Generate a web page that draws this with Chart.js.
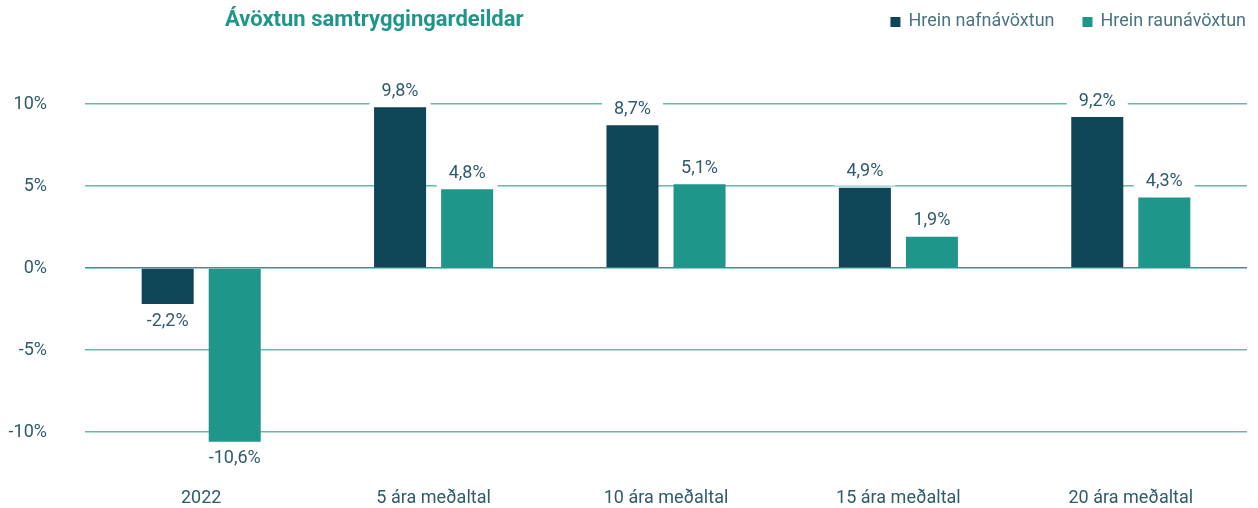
<!DOCTYPE html>
<html>
<head>
<meta charset="utf-8">
<script src="https://cdn.jsdelivr.net/npm/chart.js@4/dist/chart.umd.min.js"></script>
<style>
  html, body { margin: 0; padding: 0; background: #ffffff; overflow: hidden; }
  canvas { display: block; }
</style>
</head>
<body>
<canvas id="avoxtunChart" width="1258" height="508"></canvas>
<script>
// ---------- Data ----------
const categories = ["2022", "5 ára meðaltal", "10 ára meðaltal", "15 ára meðaltal", "20 ára meðaltal"];
const nafnavoxtun = [-2.2, 9.8, 8.7, 4.9, 9.2];
const raunavoxtun = [-10.6, 4.8, 5.1, 1.9, 4.3];
const seriesNames = ["Hrein nafnávöxtun", "Hrein raunávöxtun"];
const tickValues = [-10, -5, 0, 5, 10];
const chartTitle = "Ávöxtun samtryggingardeildar";

const DARK = "#0e4658";
const TEAL = "#1f968a";
const TEXT = "#2f5b6b";
const FONT = "Roboto, 'Noto Sans', sans-serif";

const fmt = (v) => v.toFixed(1).replace(".", ",") + "%";

// ---------- Title, legend and value labels ----------
const decorations = {
  id: "decorations",
  afterDatasetsDraw(chart) {
    const ctx = chart.ctx;
    ctx.save();

    // value labels with white boxes that cut the grid lines
    ctx.font = "18px " + FONT;
    ctx.textAlign = "center";
    ctx.textBaseline = "middle";
    chart.data.datasets.forEach((ds, di) => {
      chart.getDatasetMeta(di).data.forEach((bar, i) => {
        const v = ds.data[i];
        const label = fmt(v);
        const w = ctx.measureText(label).width + 24;
        const y = v >= 0 ? bar.y - 17 : bar.y + 16;
        ctx.fillStyle = "#ffffff";
        ctx.fillRect(bar.x - w / 2, y - 15, w, 30);
        ctx.fillStyle = TEXT;
        ctx.fillText(label, bar.x, y + 1);
      });
    });

    // title
    ctx.font = "bold 22px " + FONT;
    ctx.textAlign = "left";
    ctx.textBaseline = "alphabetic";
    ctx.fillStyle = TEAL;
    ctx.fillText(chartTitle, 225, 26);

    // legend, right aligned
    ctx.font = "18px " + FONT;
    let right = 1246;
    const items = chart.data.datasets.map((ds) => ({ text: ds.label, color: ds.backgroundColor }));
    for (let k = items.length - 1; k >= 0; k--) {
      const tw = ctx.measureText(items[k].text).width;
      const tx = right - tw;
      ctx.fillStyle = "#4a7383";
      ctx.fillText(items[k].text, tx, 26);
      ctx.fillStyle = items[k].color;
      ctx.fillRect(tx - 18, 17, 10, 10);
      right = tx - 18 - 28;
    }
    ctx.restore();
  },
};

// ---------- Chart ----------
const ctx = document.getElementById("avoxtunChart").getContext("2d");
new Chart(ctx, {
  type: "bar",
  data: {
    labels: categories,
    datasets: [
      {
        label: seriesNames[0],
        data: nafnavoxtun,
        backgroundColor: DARK,
        categoryPercentage: 0.577,
        barPercentage: 0.776,
      },
      {
        label: seriesNames[1],
        data: raunavoxtun,
        backgroundColor: TEAL,
        categoryPercentage: 0.577,
        barPercentage: 0.776,
      },
    ],
  },
  plugins: [decorations],
  options: {
    responsive: false,
    animation: false,
    layout: { padding: { top: 63, right: 11, bottom: 1, left: 0 } },
    plugins: {
      legend: { display: false },
      title: { display: false },
      tooltip: { enabled: false },
    },
    scales: {
      x: {
        afterFit: (scale) => {
          scale.height = 34;
        },
        grid: { display: false, drawTicks: false },
        border: { display: false },
        ticks: { color: TEXT, font: { family: FONT, size: 18 }, padding: 15 },
      },
      y: {
        min: -12.5,
        max: 12.5,
        afterBuildTicks: (scale) => {
          scale.ticks = tickValues.map((v) => ({ value: v }));
        },
        afterFit: (scale) => {
          scale.width = 85;
          scale.paddingTop = 0;
          scale.paddingBottom = 0;
        },
        grid: {
          drawTicks: false,
          lineWidth: 1.5,
          color: (c) => (c.tick && c.tick.value === 0 ? "#2a9a8d" : "#62bbb0"),
        },
        border: { display: false },
        ticks: {
          color: TEXT,
          font: { family: FONT, size: 18 },
          padding: 38,
          callback: (v) => v + "%",
        },
      },
    },
  },
});
</script>
</body>
</html>
